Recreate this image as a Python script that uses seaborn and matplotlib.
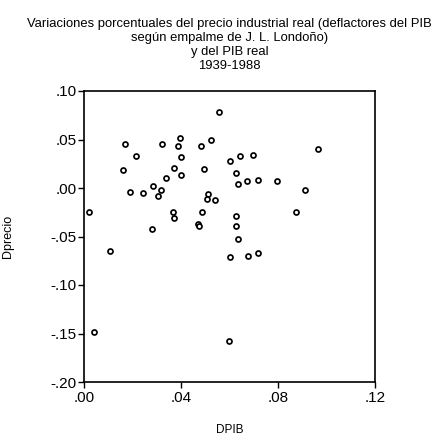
import matplotlib
matplotlib.use("Agg")
import matplotlib.pyplot as plt
import seaborn as sns
import pandas as pd

dpib = [0.0556, 0.0170, 0.0215, 0.0321, 0.0396, 0.0388, 0.0401, 0.0484, 0.0524,
        0.0603, 0.0643, 0.0695, 0.0963, 0.0161, 0.0371, 0.0494, 0.0401, 0.0628,
        0.0337, 0.0284, 0.0190, 0.0244, 0.0319, 0.0306, 0.0634, 0.0674, 0.0716,
        0.0796, 0.0912, 0.0513, 0.0509, 0.0541, 0.0019, 0.0367, 0.0372, 0.0488,
        0.0625, 0.0874, 0.0469, 0.0474, 0.0625, 0.0280, 0.0634, 0.0109, 0.0603,
        0.0677, 0.0716, 0.0040, 0.0600]
dprecio = [0.0782, 0.0456, 0.0333, 0.0456, 0.0517, 0.0432, 0.0316, 0.0432, 0.0497,
           0.0276, 0.0330, 0.0340, 0.0400, 0.0185, 0.0205, 0.0200, 0.0138, 0.0150,
           0.0101, 0.0024, -0.0038, -0.0056, -0.0024, -0.0087, 0.0038, 0.0070, 0.0080,
           0.0073, -0.0021, -0.0066, -0.0111, -0.0125, -0.0244, -0.0244, -0.0314, -0.0244,
           -0.0286, -0.0247, -0.0366, -0.0390, -0.0387, -0.0418, -0.0523, -0.0645, -0.0707,
           -0.0704, -0.0672, -0.1483, -0.1579]

x_ticks = [0.00, 0.04, 0.08, 0.12]
x_tick_labels = [".00", ".04", ".08", ".12"]
y_ticks = [0.10, 0.05, 0.00, -0.05, -0.10, -0.15, -0.20]
y_tick_labels = [".10", ".05", ".00", "-.05", "-.10", "-.15", "-.20"]

title = ("Variaciones porcentuales del precio industrial real (deflactores del PIB\n"
         "según empalme de J. L. Londoño)\n"
         "y del PIB real\n"
         "1939-1988")

df = pd.DataFrame({"DPIB": dpib, "Dprecio": dprecio})

sns.set_theme(style="white")
plt.rcParams['font.family'] = ['Liberation Sans', 'DejaVu Sans']

fig = plt.figure(figsize=(4.35, 4.38), dpi=100)
ax = fig.add_axes([84/435, 1-382/438, 291/435, 291/438])

sns.scatterplot(data=df, x="DPIB", y="Dprecio", ax=ax, marker="o", s=13,
                facecolor="white", edgecolor="black", linewidth=1.25)

ax.set_xlim(0, 0.12)
ax.set_ylim(-0.20, 0.10)
ax.set_xticks(x_ticks)
ax.set_xticklabels(x_tick_labels)
ax.set_yticks(y_ticks)
ax.set_yticklabels(y_tick_labels)
ax.tick_params(axis="both", which="both", direction="out", length=4, width=1,
               color="black", labelsize=11, labelcolor="black",
               bottom=True, left=True, top=False, right=False)
ax.tick_params(axis="y", pad=1.5)
ax.tick_params(axis="x", pad=2.5)
for sp in ax.spines.values():
    sp.set_color("black")
    sp.set_linewidth(1.2)

ax.set_xlabel("DPIB", fontsize=8.5, color="black")
ax.set_ylabel("Dprecio", fontsize=9, color="black")
ax.xaxis.set_label_coords(0.5, (382 - 424) / 291)
ax.yaxis.set_label_coords((14 - 84) / 291, 0.5)
ax.set_title(title, fontsize=9.4, color="black", linespacing=1.22, pad=16)

fig.savefig("out.png", dpi=100)
